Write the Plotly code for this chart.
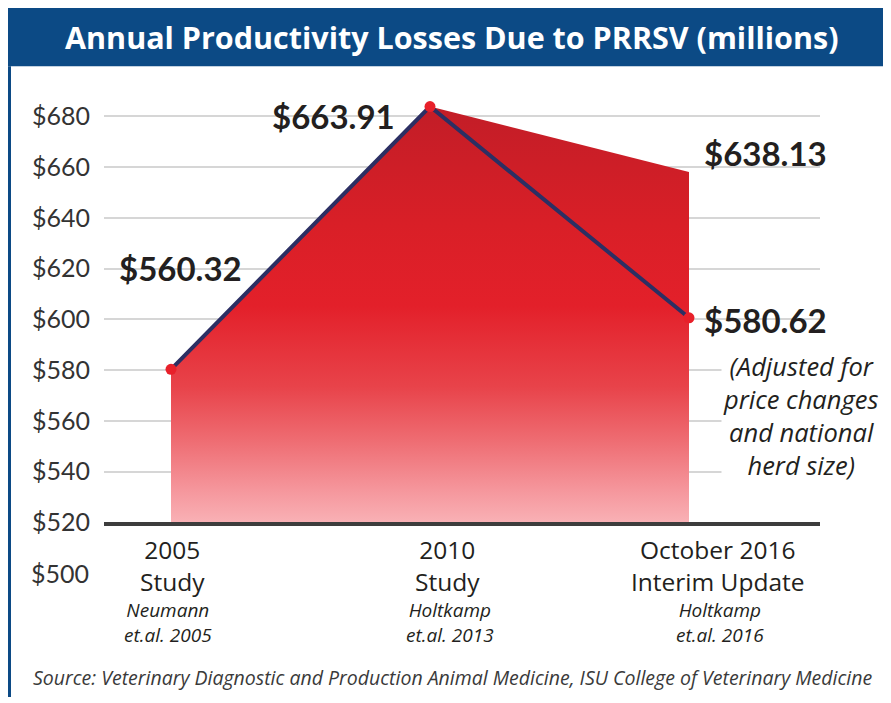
import plotly.graph_objects as go

# ---------------- data ----------------
categories = ["2005<br>Study", "2010<br>Study", "October 2016<br>Interim Update"]
authors = ["Neumann<br>et.al. 2005", "Holtkamp<br>et.al. 2013", "Holtkamp<br>et.al. 2016"]
unadjusted = [560.32, 663.91, 638.13]      # red area
adjusted = [560.32, 663.91, 580.62]        # navy line
tick_values = [480, 500, 520, 540, 560, 580, 600, 620, 640, 660]
tick_labels = ["$500", "$520", "$540", "$560", "$580", "$600", "$620", "$640", "$660", "$680"]
note_text = "(Adjusted for<br>price changes<br>and national<br>herd size)"
title_text = "Annual Productivity Losses Due to PRRSV (millions)"
source_text = ("Source: Veterinary Diagnostic and Production Animal Medicine, "
               "ISU College of Veterinary Medicine")

# page body has an 8px margin; the photographed page appears slightly compressed vertically
OFF = 8
K = 0.978
W, H = 891 - OFF, 703
def px(p):
    return (p - OFF) / W
def py(p):
    return 1 - (p / K - OFF) / H
def dy(d):
    return d / K

NUM = "Lato"
TXT = "Open Sans"
xs = [0, 1, 2]

fig = go.Figure()

fig.add_trace(go.Scatter(
    x=xs, y=unadjusted, mode="lines", line=dict(width=0, color="rgba(0,0,0,0)"),
    fill="tozeroy",
    fillgradient=dict(type="vertical", start=500, stop=664,
                      colorscale=[[0.0, "#fab8bc"], [0.1, "#f5959b"], [0.22, "#ee6a70"],
                                  [0.34, "#e8434a"], [0.53, "#e3202a"], [0.72, "#d91f27"],
                                  [1.0, "#c21d27"]]),
    hoverinfo="skip", showlegend=False))

fig.add_trace(go.Scatter(
    x=xs, y=adjusted, mode="lines+markers",
    line=dict(width=4, color="#2c2f63"),
    marker=dict(size=11, color="#e8202a"),
    showlegend=False, cliponaxis=False))

in_vals = [v for v in tick_values if v >= 500]
in_text = [t for v, t in zip(tick_values, tick_labels) if v >= 500]

fig.update_layout(
    width=W, height=H, margin=dict(l=0, r=0, t=0, b=0),
    paper_bgcolor="white", plot_bgcolor="white",
    font=dict(family=TXT, color="#2a2a2a"),
    showlegend=False,
    xaxis=dict(domain=[px(104), px(820)], range=[-0.2587, 2.5058],
               showgrid=False, zeroline=False, showticklabels=False, ticks="",
               showline=True, linewidth=4, linecolor="#3d3d3d", fixedrange=True),
    yaxis=dict(domain=[py(521), py(90)], range=[500, 670.3],
               tickvals=in_vals, ticktext=in_text, ticklabelstandoff=13,
               tickfont=dict(family=NUM, size=25, color="#333333"),
               showgrid=True, gridcolor="#d6d6d6", gridwidth=1.5,
               zeroline=False, showline=False, ticks="", fixedrange=True),
)

shapes = [
    dict(type="rect", xref="paper", yref="paper", x0=px(8), x1=1, y0=py(66), y1=1,
         fillcolor="#0c4a85", line=dict(width=0), layer="above"),
    dict(type="line", xref="paper", yref="paper", x0=px(9.5), x1=px(9.5), y0=0, y1=py(66),
         line=dict(color="#0c4a85", width=3)),
]
fig.update_layout(shapes=shapes)

ann = []
ann.append(dict(text="<b>" + title_text + "</b>", xref="paper", yref="paper",
                x=px(452), y=py(37), showarrow=False, xanchor="center", yanchor="middle",
                font=dict(family=TXT, size=30.5, color="white")))

# the out-of-range "$500" tick label
ann.append(dict(text=tick_labels[0], xref="paper", yref="paper", x=px(91), y=py(572),
                showarrow=False, xanchor="right", yanchor="middle",
                font=dict(family=NUM, size=25, color="#333333")))

# value labels
label_specs = [
    (0, adjusted[0], 9, 99),
    (1, adjusted[1], -97, -9),
    (2, unadjusted[2], 76, 19),
    (2, adjusted[2], 76, -2),
]
for x, v, sx, sy in label_specs:
    ann.append(dict(text="<b>$%.2f</b>" % v, x=x, y=v, xref="x", yref="y",
                    xshift=sx, yshift=dy(sy), showarrow=False, xanchor="center", yanchor="middle",
                    font=dict(family=NUM, size=33, color="#231f20")))

ann.append(dict(text="<i>" + note_text + "</i>", x=2, y=adjusted[2], xref="x", yref="y",
                xshift=111, yshift=dy(-96), showarrow=False, xanchor="center", yanchor="middle",
                bgcolor="white", font=dict(family=TXT, size=25.5, color="#231f20")))

# category labels
cat_x = [172, 447, 718]
auth_x = [168, 450, 720]
for cx, ax_, c, a in zip(cat_x, auth_x, categories, authors):
    ann.append(dict(text=c, xref="paper", yref="paper", x=px(cx), y=py(564),
                    showarrow=False, xanchor="center", yanchor="middle", borderpad=0,
                    font=dict(family=TXT, size=24.5, color="#231f20")))
    ann.append(dict(text="<i>" + a + "</i>", xref="paper", yref="paper", x=px(ax_),
                    y=py(621), showarrow=False, xanchor="center", yanchor="middle",
                    borderpad=0, font=dict(family=TXT, size=19, color="#231f20")))

ann.append(dict(text="<i>" + source_text + "</i>", xref="paper", yref="paper",
                x=px(452), y=py(676), showarrow=False, xanchor="center", yanchor="middle",
                font=dict(family=TXT, size=19.5, color="#3a3a3a")))

fig.update_layout(annotations=ann)
fig.write_html("out.html")
